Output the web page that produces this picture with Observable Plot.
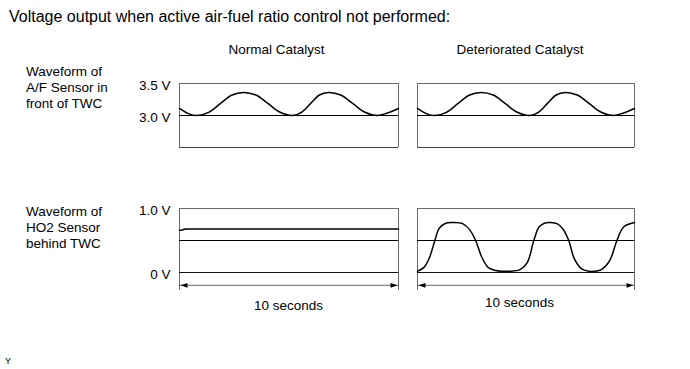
<!DOCTYPE html>
<html>
<head>
<meta charset="utf-8">
<script src="https://cdn.jsdelivr.net/npm/d3@7"></script>
<script src="https://cdn.jsdelivr.net/npm/@observablehq/plot@0.6"></script>
<style>
  html, body { margin: 0; padding: 0; background: #fff; }
  #root { position: relative; width: 690px; height: 369px; overflow: hidden; background: #fff;
          font-family: "Liberation Sans", Arial, Helvetica, sans-serif; color: #000; }
  .t { position: absolute; white-space: nowrap; line-height: 1; }
  .c { transform: translateX(-50%); }
  .rows { line-height: 16px; font-size: 13.5px; }
  .panel { position: absolute; }
  .panel svg { overflow: visible; }
</style>
</head>
<body>
<div id="root"></div>
<script>
// ---------------- data ----------------
const titleText = "Voltage output when active air-fuel ratio control not performed:";
const columns = ["Normal Catalyst", "Deteriorated Catalyst"];
const rowLabelsAF = ["Waveform of", "A/F Sensor in", "front of TWC"];
const rowLabelsHO2 = ["Waveform of", "HO2 Sensor", "behind TWC"];
const spanLabel = "10 seconds";
const footnote = "Y";

const timeSpan = [0, 10];                 // seconds shown in each panel

const afTicks = [3.0, 3.5];
const afTickLabels = ["3.0 V", "3.5 V"];
const afRange = [2.5, 3.5];
const afRef = 3.0;

const ho2Ticks = [0, 1.0];
const ho2TickLabels = ["0 V", "1.0 V"];
const ho2Range = [0, 1.0];
const ho2Ref = 0.5;

// A/F sensor waveform (same for both catalysts)
const afTime  = [0, 0.4, 0.8, 1.33, 1.86, 2.4, 2.93, 3.49, 4.05, 4.6, 5.16, 5.57, 5.98, 6.39, 6.8, 7.36, 7.92, 8.47, 9.03, 9.5, 10];
const afVolts = [3.11, 3.03, 3.0, 3.05, 3.185, 3.32, 3.36, 3.32, 3.185, 3.05, 3.0, 3.05, 3.185, 3.32, 3.36, 3.32, 3.185, 3.05, 3.0, 3.04, 3.11];

// HO2 sensor, normal catalyst
const ho2NormTime  = [0, 0.12, 0.26, 10];
const ho2NormVolts = [0.66, 0.665, 0.68, 0.68];

// HO2 sensor, deteriorated catalyst
const ho2DetTime  = [0, 0.3, 0.55, 0.8, 1.0, 1.3, 1.65, 2.1, 2.4, 2.68, 2.95, 3.25, 3.6, 3.9, 4.3, 4.7, 5.05, 5.36, 5.6, 5.85, 6.13, 6.45, 6.7, 6.97, 7.22, 7.55, 7.9, 8.15, 8.5, 8.85, 9.19, 9.5, 10];
const ho2DetVolts = [0.02, 0.08, 0.23, 0.5, 0.69, 0.77, 0.78, 0.76, 0.67, 0.5, 0.25, 0.08, 0.03, 0.02, 0.02, 0.04, 0.15, 0.5, 0.71, 0.77, 0.78, 0.76, 0.68, 0.5, 0.22, 0.06, 0.02, 0.02, 0.05, 0.18, 0.5, 0.71, 0.78];

// ---------------- rendering ----------------
const FONT = '"Liberation Sans", Arial, Helvetica, sans-serif';
const root = document.getElementById("root");

function addText(txt, left, top, size, center) {
  const d = document.createElement("div");
  d.className = "t" + (center ? " c" : "");
  d.style.left = left + "px";
  d.style.top = top + "px";
  d.style.fontSize = size + "px";
  d.textContent = txt;
  root.appendChild(d);
}
function addRows(lines, left, top) {
  const d = document.createElement("div");
  d.className = "t rows";
  d.style.left = left + "px";
  d.style.top = top + "px";
  d.innerHTML = lines.map(s => s.replace(/&/g, "&amp;").replace(/</g, "&lt;")).join("<br>");
  root.appendChild(d);
}

const headLeft = { draw(ctx) { ctx.moveTo(1, 0); ctx.lineTo(8, -2.4); ctx.lineTo(8, 2.4); ctx.closePath(); } };
const headRight = { draw(ctx) { ctx.moveTo(-1, 0); ctx.lineTo(-8, -2.4); ctx.lineTo(-8, 2.4); ctx.closePath(); } };

function panel(cfg) {
  const pxPerV = cfg.pxPerV;
  const top = 5;
  const yLow = cfg.yLow;
  const yHigh = cfg.domain[1];
  const rangeBottom = top + (yHigh - yLow) * pxPerV;
  const pts = cfg.time.map((t, i) => ({ t, v: cfg.volts[i] }));
  const marks = [
    Plot.ruleY([yHigh], { x1: timeSpan[0], x2: timeSpan[1], stroke: "#6a6a6a", strokeWidth: 1 }),
    Plot.ruleX(timeSpan, { y1: yLow, y2: yHigh, stroke: "#6a6a6a", strokeWidth: 1 }),
    Plot.ruleY([cfg.domain[0]], { x1: timeSpan[0], x2: timeSpan[1], stroke: cfg.ho2 ? "#111" : "#444", strokeWidth: 1 }),
    Plot.ruleY([cfg.ref], { x1: timeSpan[0], x2: timeSpan[1], stroke: "#000", strokeWidth: 1 }),
    Plot.line(pts, { x: "t", y: "v", curve: cfg.curve, stroke: "#000", strokeWidth: 1.5 })
  ];
  if (cfg.ho2) {
    const arrowLevel = cfg.arrowLevel;
    marks.push(Plot.ruleY([arrowLevel], { x1: timeSpan[0], x2: timeSpan[1], stroke: "#6a6a6a", strokeWidth: 1 }));
    marks.push(Plot.dot([timeSpan[0]], { x: d => d, y: () => arrowLevel, symbol: headLeft, fill: "#000", stroke: "none" }));
    marks.push(Plot.dot([timeSpan[1]], { x: d => d, y: () => arrowLevel, symbol: headRight, fill: "#000", stroke: "none" }));
  }
  if (cfg.showAxis) {
    marks.push(Plot.axisY(cfg.ticks, {
      anchor: "left", tickSize: 0, tickPadding: 9, fontSize: 13.5, dy: 2, label: null,
      tickFormat: d => cfg.tickLabels[cfg.ticks.indexOf(d)]
    }));
  }
  const svg = Plot.plot({
    width: cfg.ml + cfg.pw + 4,
    height: Math.ceil(rangeBottom) + 6,
    marginLeft: cfg.ml, marginRight: 4, marginTop: top, marginBottom: 6,
    x: { domain: timeSpan, range: [cfg.ml, cfg.ml + cfg.pw], axis: null },
    y: { domain: [yLow, yHigh], range: [rangeBottom, top], axis: null },
    style: { fontFamily: FONT, background: "transparent", overflow: "visible", color: "#000" },
    marks
  });
  const wrap = document.createElement("div");
  wrap.className = "panel";
  wrap.style.left = (cfg.frameLeft - cfg.ml) + "px";
  wrap.style.top = (cfg.frameTop - top) + "px";
  wrap.appendChild(svg);
  root.appendChild(wrap);
}

// texts
addText(titleText, 9, 8.5, 16, false);
addText(columns[0], 276.5, 42.6, 13.5, true);
addText(columns[1], 520, 42.6, 13.5, true);
addRows(rowLabelsAF, 26, 64);
addRows(rowLabelsHO2, 26, 204);
addText(spanLabel, 288.5, 298.6, 13.5, true);
addText(spanLabel, 519.5, 295.6, 13.5, true);
addText(footnote, 5, 357, 9, false);

// panels
const cols = [
  { frameLeft: 179, pw: 219, ml: 50, showAxis: true },
  { frameLeft: 417, pw: 217, ml: 10, showAxis: false }
];
cols.forEach(c => {
  panel({ ...c, frameTop: 83, pxPerV: 64, domain: afRange, yLow: afRange[0], ref: afRef,
          ticks: afTicks, tickLabels: afTickLabels, time: afTime, volts: afVolts,
          curve: "catmull-rom", ho2: false });
});
panel({ ...cols[0], frameTop: 208, pxPerV: 64, domain: ho2Range, yLow: -0.28, ref: ho2Ref, arrowLevel: -0.2,
        ticks: ho2Ticks, tickLabels: ho2TickLabels, time: ho2NormTime, volts: ho2NormVolts,
        curve: "linear", ho2: true });
panel({ ...cols[1], frameTop: 208, pxPerV: 64, domain: ho2Range, yLow: -0.28, ref: ho2Ref, arrowLevel: -0.2,
        ticks: ho2Ticks, tickLabels: ho2TickLabels, time: ho2DetTime, volts: ho2DetVolts,
        curve: "catmull-rom", ho2: true });
</script>
</body>
</html>
